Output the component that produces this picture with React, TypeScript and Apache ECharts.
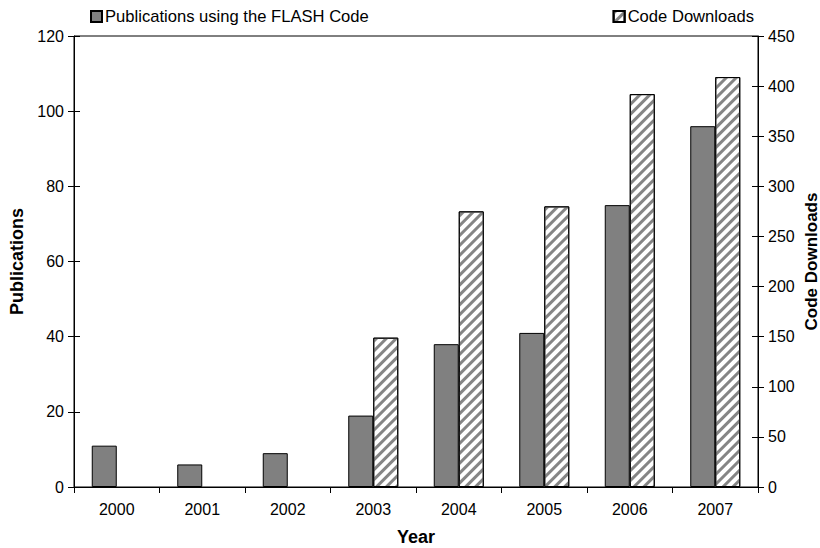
import React, { useEffect, useRef } from "react";
import * as echarts from "echarts";

const years = ["2000", "2001", "2002", "2003", "2004", "2005", "2006", "2007"];
const publications = [11, 6, 9, 19, 38, 41, 75, 96];
const downloads: (number | null)[] = [null, null, null, 149, 275, 280, 392, 409];

const FONT = "Liberation Sans";

export default function App() {
  const ref = useRef<HTMLDivElement>(null);
  useEffect(() => {
    if (!ref.current) return;
    const chart = echarts.init(ref.current, undefined, { renderer: "svg" });
    const labelStyle = { color: "#000", fontFamily: FONT, fontSize: 16 };
    const nameStyle = { color: "#000", fontFamily: FONT, fontSize: 18, fontWeight: "bold" as const };
    chart.setOption({
      animation: false,
      textStyle: { fontFamily: FONT },
      grid: {
        left: 74, right: 62, top: 36, bottom: 61,
        containLabel: false,
        outerBoundsMode: "none",
        show: true, borderColor: "#000", borderWidth: 1, backgroundColor: "transparent",
      },
      legend: [
        {
          data: ["Publications using the FLASH Code"],
          left: 85, top: 3, itemWidth: 11, itemHeight: 11, icon: "rect",
          textStyle: { color: "#000", fontFamily: FONT, fontSize: 16.6, padding: [0, 0, 0, -2] },
        },
        {
          data: ["Code Downloads"],
          right: 61, top: 3, itemWidth: 11, itemHeight: 11, icon: "rect",
          textStyle: { color: "#000", fontFamily: FONT, fontSize: 16.6, padding: [0, 0, 0, -2] },
        },
      ],
      xAxis: {
        type: "category",
        data: years,
        boundaryGap: true,
        name: "Year",
        nameLocation: "middle",
        nameGap: 41,
        nameTextStyle: nameStyle,
        axisLine: { lineStyle: { color: "#000", width: 1 } },
        axisTick: { show: true, length: 6, lineStyle: { color: "#000" } },
        axisLabel: { ...labelStyle, margin: 14 },
      },
      yAxis: [
        {
          type: "value", min: 0, max: 120, interval: 20, position: "left",
          name: "Publications", nameLocation: "middle", nameGap: 46, nameRotate: 90,
          nameTextStyle: nameStyle,
          axisLine: { show: true, lineStyle: { color: "#000" } },
          axisTick: { show: true, length: 6, lineStyle: { color: "#000" } },
          axisLabel: { ...labelStyle, margin: 10 },
          splitLine: { show: false },
        },
        {
          type: "value", min: 0, max: 450, interval: 50, position: "right",
          name: "Code Downloads", nameLocation: "middle", nameGap: 45, nameRotate: 90,
          nameMoveOverlap: false,
          nameTextStyle: { ...nameStyle, fontSize: 17 },
          axisLine: { show: true, lineStyle: { color: "#000" } },
          axisTick: { show: true, length: 6, lineStyle: { color: "#000" } },
          axisLabel: { ...labelStyle, margin: 10 },
          splitLine: { show: false },
        },
        {
          type: "value", min: 0, max: 120, interval: 20, position: "left",
          axisLine: { show: false },
          axisTick: { show: true, inside: true, length: 6, lineStyle: { color: "#000" } },
          axisLabel: { show: false },
          splitLine: { show: false },
        },
        {
          type: "value", min: 0, max: 450, interval: 50, position: "right",
          axisLine: { show: false },
          axisTick: { show: true, inside: true, length: 6, lineStyle: { color: "#000" } },
          axisLabel: { show: false },
          splitLine: { show: false },
        },
      ],
      series: [
        {
          name: "Publications using the FLASH Code",
          type: "bar",
          yAxisIndex: 0,
          data: publications,
          barWidth: 25,
          barGap: "0%",
          itemStyle: { color: "#808080", borderColor: "#000", borderWidth: 1 },
        },
        {
          name: "Code Downloads",
          type: "bar",
          yAxisIndex: 1,
          data: downloads,
          barWidth: 25,
          barGap: "0%",
          itemStyle: {
            color: "#ffffff",
            borderColor: "#000",
            borderWidth: 1,
            decal: {
              symbol: "rect",
              color: "#858585",
              backgroundColor: "#ffffff",
              dashArrayX: [1, 0],
              dashArrayY: [2.5, 3.5],
              rotation: -Math.PI / 4,
            },
          },
        },
      ],
    });
    return () => chart.dispose();
  }, []);
  return (
    <div
      ref={ref}
      style={{ position: "absolute", left: 0, top: 0, width: 820, height: 548 }}
    />
  );
}
